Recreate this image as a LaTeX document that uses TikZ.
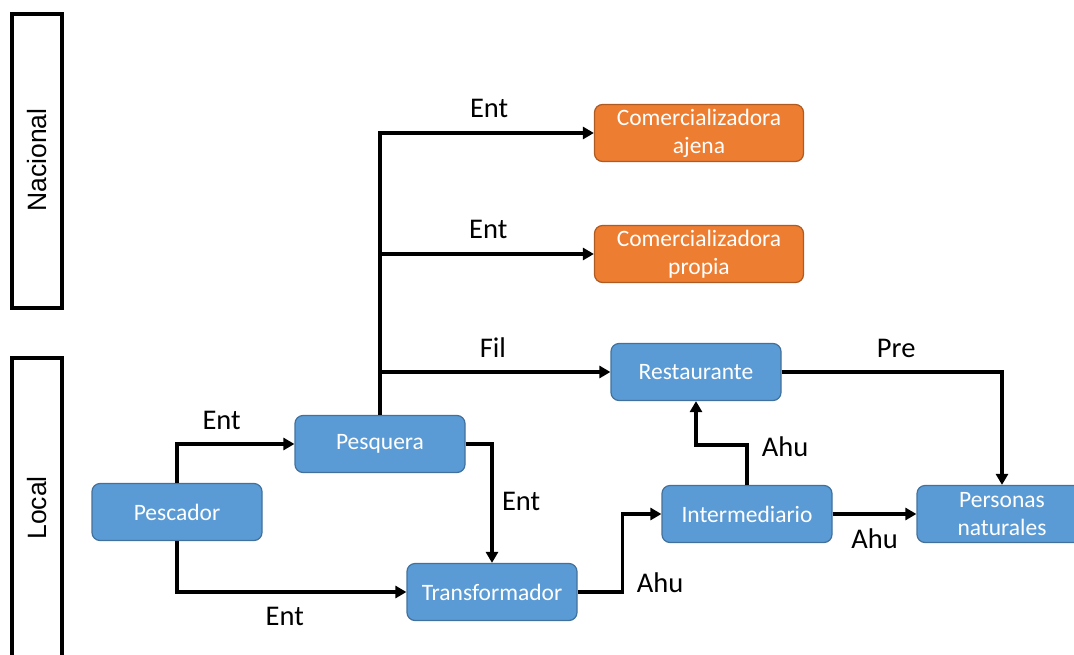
\documentclass[tikz,border=0pt]{standalone}
\usepackage{fontspec}
\setmainfont{Carlito}
\newfontfamily\levelfont{Liberation Sans}
\usepackage{xcolor}
\usetikzlibrary{positioning, arrows.meta}

\definecolor{actblue}{HTML}{5B9BD5}
\definecolor{actblueline}{HTML}{41719C}
\definecolor{mktorange}{HTML}{ED7D31}
\definecolor{mktorangeline}{HTML}{AE5A21}

\begin{document}
\begin{tikzpicture}[x=1pt, y=-1pt, ->, >={Triangle[length=11pt, width=12pt]}, line width=3.5pt,
    actor/.style={rectangle, rounded corners=8pt, draw=actblueline, line width=1.2pt, fill=actblue,
        text=white, minimum width=170pt, minimum height=57pt, inner sep=0pt, align=center,
        font=\fontsize{23.5}{28}\selectfont},
    market/.style={actor, draw=mktorangeline, fill=mktorange, minimum width=209pt},
    flow/.style={font=\fontsize{28.5}{30}\selectfont, text=black},
    levelbox/.style={-, line width=4pt, line join=miter}]
    \useasboundingbox (0,0) rectangle (1074,654);

    % niveles
    \draw[levelbox] (12,14) rectangle (62,308);
    \draw[levelbox] (12,680) -- (12,358) -- (62,358) -- (62,680);
    \node[rotate=90, font=\levelfont\fontsize{26.5}{28}\selectfont] (nacional) at (37,160) {Nacional};
    \node[rotate=90, font=\levelfont\fontsize{26.5}{28}\selectfont] (local)    at (37,508) {Local};

    % actores
    \node[actor]  (pescador) at (177,512) {Pescador};
    \node[actor]  (pesquera) at (380,444) {Pesquera};
    \node[actor]  (transf)   at (492,592) {Transformador};
    \node[actor]  (inter)    at (747,514) {Intermediario};
    \node[actor]  (personas) [right of=inter, node distance=255pt] {Personas\\naturales};
    \node[actor]  (resto)    at (696,372) {Restaurante};
    \node[market] (ajena)    at (699,133) {Comercializadora\\ajena};
    \node[market] (propia)   [below of=ajena, node distance=121pt] {Comercializadora\\propia};

    % flujos
    \draw (pescador.north) |- node[flow, above=9pt, pos=0.69] {Ent} (pesquera.west);
    \draw (pescador.south) |- node[flow, below=10pt, pos=0.735] {Ent} (transf.west);
    \draw (pesquera.east)  -| node[flow, right=5pt, pos=0.74] {Ent} (transf.north);
    \draw (pesquera.north) |- node[flow, above=10pt, pos=0.755] {Ent} (ajena.west);
    \draw (pesquera.north) |- node[flow, above=10pt, pos=0.753] {Ent} (propia.west);
    \draw (pesquera.north) |- node[flow, above=9pt, pos=0.745] {Fil} (resto.west);
    \draw (transf.east) -- ++(45,0) |- (inter.west);
    \node[flow] (ahu1) at (660,583) {Ahu};
    \draw (inter.north) -- ++(0,-40) -| (resto.south);
    \node[flow] (ahu2) at (785,447) {Ahu};
    \draw (inter.east) -- node[flow, below=10pt, pos=0.5] {Ahu} (personas.west);
    \draw (resto.east) -| node[flow, above=9pt, pos=0.26] {Pre} (personas.north);
\end{tikzpicture}
\end{document}
